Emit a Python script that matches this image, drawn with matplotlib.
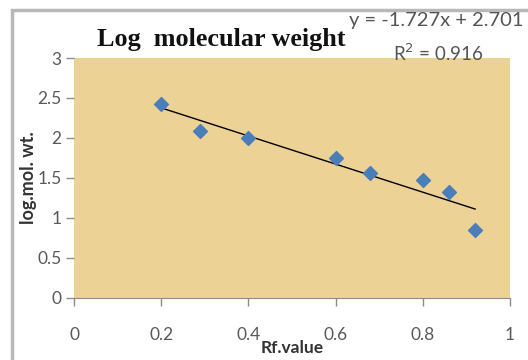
import matplotlib.pyplot as plt
from matplotlib.patches import Rectangle
import numpy as np

rf_value = [0.2, 0.29, 0.4, 0.6, 0.68, 0.8, 0.86, 0.92]
log_mol_wt = [2.43, 2.09, 2.0, 1.75, 1.56, 1.48, 1.32, 0.85]
x_ticks = [0, 0.2, 0.4, 0.6, 0.8, 1]
y_ticks = [0, 0.5, 1, 1.5, 2, 2.5, 3]
x_labels = ['0', '0.2', '0.4', '0.6', '0.8', '1']
y_labels = ['0', '0.5', '1', '1.5', '2', '2.5', '3']

fig = plt.figure(figsize=(5.28, 3.6), dpi=100)
fig.patch.set_facecolor('white')

# grey chart frame, runs off the right and bottom edge
fig.patches.append(Rectangle((12/528, -0.05), 1.1, 1 - 10/360 + 0.05,
                             transform=fig.transFigure, fill=False,
                             edgecolor='#b8b8b8', linewidth=2.5))

ax = fig.add_axes([74/528, 1 - 298/360, 436/528, 240/360])
ax.set_facecolor('#ecd295')

slope, intercept = np.polyfit(rf_value, log_mol_wt, 1)
xs = np.array([min(rf_value), max(rf_value)])
ax.plot(xs, slope * xs + intercept, color='black', linewidth=1, zorder=2)
ax.scatter(rf_value, log_mol_wt, marker='D', s=50, color='#4a7ebb',
           edgecolors='#4a7ebb', zorder=3)

ax.set_xlim(0, 1)
ax.set_ylim(0, 3)
ax.set_xticks(x_ticks)
ax.set_xticklabels(x_labels)
ax.set_yticks(y_ticks)
ax.set_yticklabels(y_labels)
ax.tick_params(colors='#8c8c8c', labelcolor='#595959', labelsize=12.5,
               length=6, width=1, direction='out')
ax.tick_params(axis='x', pad=15)
ax.tick_params(axis='y', pad=3)
for lbl in ax.get_xticklabels() + ax.get_yticklabels():
    lbl.set_family('Lato')

for side in ['top', 'right', 'left']:
    ax.spines[side].set_visible(False)
ax.spines['bottom'].set_color('#8c8c8c')

ax.set_xlabel('Rf.value', fontsize=12.5, fontweight='bold',
              family='Lato', color='#333333')
ax.xaxis.set_label_coords(0.5, -0.175)
ax.set_ylabel('log.mol. wt.', fontsize=13, fontweight='bold',
              family='Lato', color='#333333')
ax.yaxis.set_label_coords(-0.085, 0.5)

fig.text(97/528, 1 - 46/360, 'Log  molecular weight', fontsize=18.8,
         fontweight='bold', family='Liberation Serif', ha='left',
         va='baseline', color='#111111')
fig.text(349/528, 1 - 26/360, 'y = -1.727x + 2.701', fontsize=14.5,
         family='Lato', ha='left', va='baseline', color='#555555')
fig.text(438/528, 1 - 61/360, 'R$^2$ = 0.916', fontsize=13.5,
         family='Lato', ha='center', va='baseline', color='#555555')

fig.savefig('out.png', dpi=100)
